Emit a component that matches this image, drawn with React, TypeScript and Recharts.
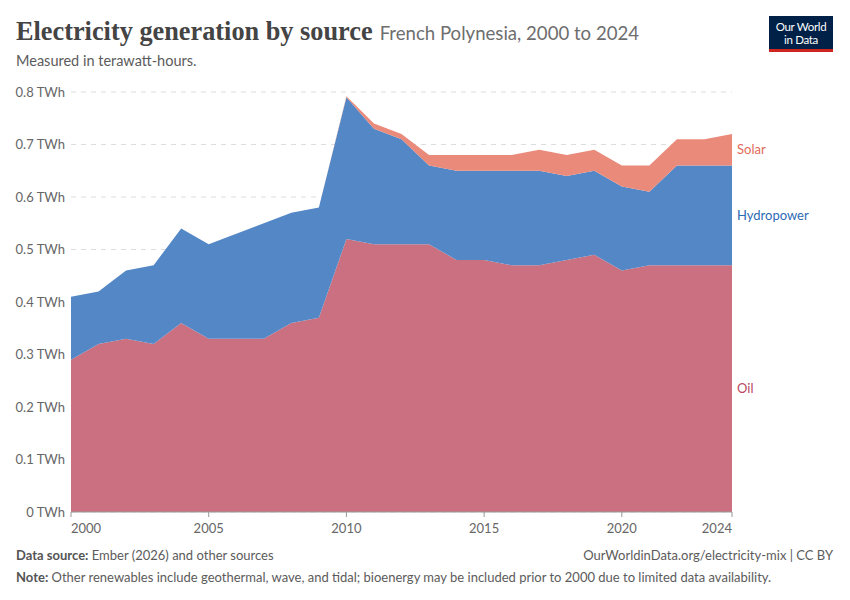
import React from 'react'
import { AreaChart, Area, XAxis, YAxis, CartesianGrid, ReferenceDot } from 'recharts'

const years = [2000, 2001, 2002, 2003, 2004, 2005, 2006, 2007, 2008, 2009, 2010, 2011, 2012, 2013, 2014, 2015, 2016, 2017, 2018, 2019, 2020, 2021, 2022, 2023, 2024]
const oil = [0.29, 0.32, 0.33, 0.32, 0.36, 0.33, 0.33, 0.33, 0.36, 0.37, 0.52, 0.51, 0.51, 0.51, 0.48, 0.48, 0.47, 0.47, 0.48, 0.49, 0.46, 0.47, 0.47, 0.47, 0.47]
const hydropower = [0.12, 0.10, 0.13, 0.15, 0.18, 0.18, 0.20, 0.22, 0.21, 0.21, 0.27, 0.22, 0.20, 0.15, 0.17, 0.17, 0.18, 0.18, 0.16, 0.16, 0.16, 0.14, 0.19, 0.19, 0.19]
const solar = [0, 0, 0, 0, 0, 0, 0, 0, 0, 0, 0.002, 0.01, 0.01, 0.02, 0.03, 0.03, 0.03, 0.04, 0.04, 0.04, 0.04, 0.05, 0.05, 0.05, 0.06]

const xTicks = [2000, 2005, 2010, 2015, 2020, 2024]
const yTicks = [0, 0.1, 0.2, 0.3, 0.4, 0.5, 0.6, 0.7, 0.8]

const COLORS = {
    oil: '#cb7080',
    hydro: '#5387c6',
    solar: '#e98a7a',
}
const LABEL_COLORS = {
    oil: '#b9475e',
    hydro: '#2d6ab5',
    solar: '#e06a57',
}

const data = years.map((year, i) => ({
    year,
    oil: oil[i],
    hydropower: hydropower[i],
    solar: solar[i],
}))

const last = years.length - 1
const oilMid = oil[last] / 2
const hydroMid = oil[last] + hydropower[last] / 2
const solarMid = oil[last] + hydropower[last] + solar[last] / 2

const FONT = 'Lato, "Noto Sans", sans-serif'

// first and last year labels are kept inside the plot, like OWID does
const YearTick = (props: any) => {
    const { x, y, payload } = props
    const v = payload.value
    const anchor = v === xTicks[0] ? 'start' : v === xTicks[xTicks.length - 1] ? 'end' : 'middle'
    return (
        <text x={x} y={y + 14} textAnchor={anchor} fill="#666" fontSize={13} fontFamily={FONT}>
            {v}
        </text>
    )
}

export default function App() {
    return (
        <div style={{ position: 'absolute', left: 0, top: 0, width: 850, height: 600, background: '#fff', fontFamily: FONT, overflow: 'hidden' }}>
            {/* Header */}
            <div style={{ position: 'absolute', left: 16, top: 17, whiteSpace: 'nowrap' }}>
                <span style={{ fontFamily: '"Liberation Serif", "DejaVu Serif", serif', fontSize: 26.3, fontWeight: 700, color: '#444' }}>
                    Electricity generation by source
                </span>
                <span style={{ fontSize: 18.6, color: '#6e6e6e', marginLeft: 7 }}>French Polynesia, 2000 to 2024</span>
            </div>
            <div style={{ position: 'absolute', left: 16, top: 52, fontSize: 14.5, color: '#5b5b5b' }}>
                Measured in terawatt-hours.
            </div>

            {/* Logo */}
            <div style={{ position: 'absolute', left: 769, top: 16, width: 64, height: 36, background: '#002147', borderBottom: '3px solid #ce261e', boxSizing: 'border-box', color: '#fff', fontSize: 11.5, lineHeight: '13px', textAlign: 'center', paddingTop: 4, letterSpacing: -0.3 }}>
                Our World<br />in Data
            </div>

            <div style={{ position: 'absolute', left: 0, top: 1 }}>
                <AreaChart width={850} height={600} data={data} margin={{ top: 91, right: 118, bottom: 59, left: 0 }}>
                    <CartesianGrid vertical={false} stroke="#dddddd" strokeDasharray="5 5" />
                    <XAxis
                        dataKey="year"
                        type="number"
                        domain={[2000, 2024]}
                        ticks={xTicks}
                        height={30}
                        stroke="#999"
                        tickSize={5}
                        tick={<YearTick />}
                    />
                    <YAxis
                        type="number"
                        domain={[0, 0.8]}
                        ticks={yTicks}
                        width={71}
                        axisLine={false}
                        tickLine={false}
                        tickSize={0}
                        tickMargin={6}
                        tickFormatter={(v: number) => `${v === 0 ? 0 : v.toFixed(1)} TWh`}
                        tick={{ fill: '#666', fontSize: 13, fontFamily: FONT }}
                    />
                    <Area type="linear" dataKey="oil" stackId="1" fill={COLORS.oil} fillOpacity={1} stroke="none" isAnimationActive={false} />
                    <Area type="linear" dataKey="hydropower" stackId="1" fill={COLORS.hydro} fillOpacity={1} stroke="none" isAnimationActive={false} />
                    <Area type="linear" dataKey="solar" stackId="1" fill={COLORS.solar} fillOpacity={1} stroke="none" isAnimationActive={false} />
                    <ReferenceDot x={2024} y={solarMid} r={0} stroke="none" fill="none"
                        label={{ value: 'Solar', position: 'right', offset: 5, fill: LABEL_COLORS.solar, fontSize: 13, fontFamily: FONT }} />
                    <ReferenceDot x={2024} y={hydroMid} r={0} stroke="none" fill="none"
                        label={{ value: 'Hydropower', position: 'right', offset: 5, fill: LABEL_COLORS.hydro, fontSize: 13, fontFamily: FONT }} />
                    <ReferenceDot x={2024} y={oilMid} r={0} stroke="none" fill="none"
                        label={{ value: 'Oil', position: 'right', offset: 5, fill: LABEL_COLORS.oil, fontSize: 13, fontFamily: FONT }} />
                </AreaChart>
            </div>

            {/* Footer */}
            <div style={{ position: 'absolute', left: 16, top: 547, fontSize: 13, color: '#5b5b5b' }}>
                <b style={{ color: '#555' }}>Data source:</b> Ember (2026) and other sources
            </div>
            <div style={{ position: 'absolute', right: 17, top: 547, fontSize: 13, color: '#5b5b5b' }}>
                OurWorldinData.org/electricity-mix | CC BY
            </div>
            <div style={{ position: 'absolute', left: 16, top: 569, fontSize: 13, color: '#5b5b5b' }}>
                <b style={{ color: '#555' }}>Note:</b> Other renewables include geothermal, wave, and tidal; bioenergy may be included prior to 2000 due to limited data availability.
            </div>
        </div>
    )
}
